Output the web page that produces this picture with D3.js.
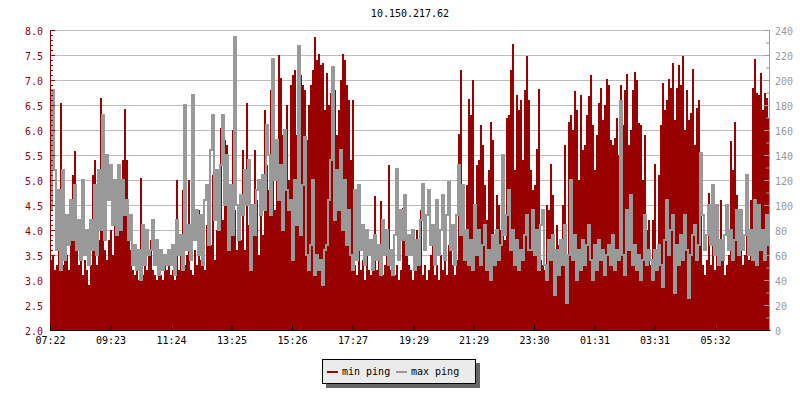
<!DOCTYPE html>
<meta charset="utf-8">
<style>
  body { margin: 0; background: #fff; }
  svg text { font-family: "DejaVu Sans Mono", monospace; font-size: 10px; }
</style>
<svg width="800" height="400"></svg>
<script src="https://d3js.org/d3.v7.min.js"></script>
<script>

var title = "10.150.217.62";
var startTime = "07:22";
var stepMinutes = 4;
var spanMinutes = 1440;

var timeLabels = ["07:22", "09:23", "11:24", "13:25", "15:26", "17:27",
  "19:29", "21:29", "23:30", "01:31", "03:31", "05:32"];
var leftTicks = [2.0, 2.5, 3.0, 3.5, 4.0, 4.5, 5.0, 5.5, 6.0, 6.5, 7.0, 7.5, 8.0];
var rightTicks = [0, 20, 40, 60, 80, 100, 120, 140, 160, 180, 200, 220, 240];
var legendNames = ["min ping", "max ping"];

// one value every 4 minutes (left axis units)
var minPing = [
  3.4,3.5,3.2,3.3,3.9,6.55,3.3,4.0,3.5,3.2, 4.2,5.1,5.58,3.7,3.3,3.5,3.1,3.4,3.2,2.9,
  3.3,5.1,5.4,3.3,3.8,6.65,4.0,3.6,3.4,3.8, 4.0,3.5,4.3,4.6,4.0,4.8,5.4,6.42,5.4,4.2,
  3.6,3.2,3.1,3.3,3.0,5.05,3.1,3.4,3.2,3.6, 3.8,3.2,3.1,3.0,3.2,3.1,3.0,3.3,3.2,3.4,
  3.1,3.2,3.0,5.0,3.2,3.8,4.8,3.3,3.5,5.0, 3.2,3.1,3.6,3.3,4.4,3.4,3.9,3.2,4.1,4.5,
  3.7,5.1,3.4,4.0,4.5,6.05,4.2,5.8,5.7,4.0, 3.9,6.0,4.4,3.6,4.4,3.8,5.6,3.6,6.55,4.1,
  3.4,3.9,5.6,4.6,3.5,4.9,3.9,6.4,5.3,4.8, 6.8,6.95,4.4,5.5,7.5,7.05,5.9,4.8,6.5,5.0,
  6.9,7.1,7.2,5.9,6.9,7.1,6.9,6.8,5.8,6.5, 6.9,7.2,7.87,7.4,7.52,7.3,7.35,6.4,7.15,6.5,
  6.75,7.2,6.8,5.9,6.4,7.0,7.52,7.4,6.9,6.6, 5.4,6.6,3.3,3.1,3.6,3.2,3.4,3.0,3.5,3.2,
  3.1,3.3,4.68,3.2,3.4,4.58,3.1,3.3,3.6,5.3, 3.2,3.4,3.1,3.3,3.0,3.2,4.45,4.4,3.8,3.3,
  3.2,3.0,3.4,4.0,3.3,4.4,3.1,3.3,3.0,3.2, 3.5,4.0,3.1,3.3,3.0,3.5,3.2,3.4,3.1,3.7,
  3.9,3.3,3.1,3.4,5.93,7.2,4.8,3.5,4.9,6.62, 6.3,7.0,4.0,5.3,5.4,6.1,5.7,4.9,4.2,5.2,
  6.16,5.8,3.9,4.7,4.5,4.0,4.2,3.8,6.25,6.3, 7.2,7.73,5.2,6.7,6.4,6.6,5.4,6.8,7.48,6.6,
  5.2,4.8,4.9,5.63,6.83,3.4,3.3,3.2,4.5,4.4, 5.33,4.7,3.5,4.1,3.7,3.3,4.5,5.7,3.2,6.17,
  6.3,6.0,6.78,6.4,5.0,6.7,5.6,5.7,6.3,6.69, 7.1,6.1,5.2,5.9,6.55,6.85,6.2,6.5,7.03,6.9,
  5.8,5.7,5.85,6.25,5.5,6.91,6.1,6.8,7.13,5.7, 6.0,6.8,7.17,7.0,6.15,6.1,5.0,5.9,4.0,4.2,
  3.3,4.2,5.33,3.4,5.1,6.1,6.95,6.4,6.6,7.03, 6.85,7.35,6.2,6.85,7.3,6.9,7.48,6.0,6.8,6.2,
  6.35,7.22,5.7,6.45,6.6,4.67,3.3,3.1,3.4,4.75, 3.3,4.1,3.2,3.5,3.3,4.6,3.4,3.1,3.3,3.5,
  5.78,5.2,6.16,4.7,3.6,4.35,3.3,3.5,5.1,3.4, 4.6,6.85,7.43,6.75,6.7,7.15,6.4,6.75,6.65,6.25
];

var maxPing = [
  4.4,6.8,5.2,3.6,4.8,3.2,5.2,3.4,4.3,3.7, 4.6,3.8,4.9,3.6,4.2,3.4,5.0,3.5,4.0,3.3,
  4.2,3.6,4.9,3.5,5.2,4.0,6.3,3.8,5.5,4.6, 5.3,4.1,5.0,3.9,5.3,4.0,5.0,4.3,4.6,3.8,
  4.3,3.3,3.7,3.2,3.6,3.0,4.1,3.3,4.0,3.5, 3.6,4.2,3.3,3.8,3.1,3.6,3.2,3.5,3.3,3.6,
  3.3,3.7,3.1,4.2,3.5,3.9,3.2,6.5,3.6,4.1, 3.4,6.7,3.8,4.4,3.5,4.3,3.3,4.6,4.9,3.7,
  5.6,6.3,4.2,5.2,4.0,5.3,6.3,4.5,5.5,3.6, 4.9,3.9,7.87,4.5,3.8,4.7,4.3,5.2,4.5,5.4,
  3.2,4.5,3.9,4.8,5.0,4.3,5.1,4.4,6.1,5.5, 4.3,7.42,5.0,5.8,4.6,5.3,4.0,6.0,4.8,4.4,
  4.6,3.4,5.0,4.1,7.68,3.9,4.9,5.87,3.5,3.2, 3.7,5.0,3.1,3.5,3.2,3.4,2.9,3.6,3.7,4.6,
  5.4,7.27,4.2,5.2,4.4,5.6,4.0,5.0,3.7,4.4, 3.5,3.2,4.8,3.4,4.9,3.6,4.1,3.3,4.0,3.5,
  3.8,3.2,3.9,3.4,3.7,3.1,4.2,3.5,4.0,3.3, 3.6,3.1,3.9,5.23,3.4,4.4,3.8,4.7,3.5,3.9,
  3.5,4.0,3.2,3.8,3.3,4.2,4.93,3.6,4.3,4.8, 3.7,4.1,3.3,4.6,3.5,4.0,4.7,3.4,4.3,4.97,
  3.6,4.1,3.3,4.3,5.3,3.9,4.9,3.4,4.0,3.3, 3.8,3.2,4.5,3.5,4.0,3.3,3.7,4.1,3.2,3.6,
  3.0,3.9,3.3,4.0,3.4,3.7,5.5,3.9,4.3,4.8, 3.6,4.0,3.3,3.8,3.2,3.6,3.4,3.9,4.3,3.6,
  3.6,4.4,3.5,4.0,3.2,4.1,4.4,3.3,3.0,3.8, 3.4,3.9,2.7,3.6,3.1,3.8,3.3,4.1,2.55,3.5,
  5.0,3.4,3.9,3.0,3.6,3.2,3.8,3.3,3.7,4.1, 3.4,3.0,3.7,3.2,3.8,3.4,3.6,3.1,3.5,3.7,
  3.3,3.9,3.2,3.6,3.4,6.58,3.5,3.1,4.4,3.6, 4.7,3.3,3.7,3.2,3.5,3.0,3.4,4.3,3.3,3.6,
  3.4,3.0,3.6,3.2,3.7,3.3,2.87,3.8,4.6,3.5, 4.0,4.3,2.75,3.7,3.3,3.9,3.4,4.3,3.6,2.65,
  3.5,3.9,4.1,3.4,3.7,5.55,4.3,3.6,3.9,4.5, 3.7,4.9,3.5,4.5,3.3,3.8,3.4,3.9,4.5,3.6,
  4.0,3.4,3.8,4.4,3.5,4.4,3.6,3.9,5.1,3.5, 4.0,3.4,4.6,3.3,4.5,3.6,4.0,3.4,4.3,3.7
];

var red = "#990000", grey = "#999999";

var svg = d3.select("svg");

var parseTime = d3.timeParse("%H:%M");
var t0 = parseTime(startTime);
var t1 = d3.timeMinute.offset(t0, spanMinutes);

var x = d3.scaleTime().domain([t0, t1]).range([50, 770]);
var y = d3.scaleLinear().domain([2, 8]).range([330, 30]);
var yRight = d3.scaleLinear().domain([0, 240]).range([330, 30]);

function toPoints(arr) {
  var pts = arr.map(function(v, i) {
    return {t: d3.timeMinute.offset(t0, i * stepMinutes), v: v};
  });
  pts.push({t: t1, v: arr[arr.length - 1]});
  return pts;
}
var minData = toPoints(minPing);
var maxData = toPoints(maxPing);

var tickTimes = timeLabels.map(function(s) {
  var t = parseTime(s);
  if (t < t0) t = d3.timeDay.offset(t, 1);
  return t;
});

// grid
svg.append("g")
  .selectAll("line")
  .data(leftTicks)
  .enter().append("line")
  .attr("x1", 50).attr("x2", 770)
  .attr("y1", d => y(d) + 0.5).attr("y2", d => y(d) + 0.5)
  .attr("stroke", "#bbbbbb");

// min ping area
var area = d3.area()
  .curve(d3.curveStepAfter)
  .x(d => x(d.t))
  .y0(330)
  .y1(d => y(d.v));

svg.append("path")
  .datum(minData)
  .attr("d", area)
  .attr("fill", red)
  .attr("shape-rendering", "crispEdges");

// max ping line, drawn over the area
var line = d3.line()
  .curve(d3.curveStepAfter)
  .x(d => x(d.t))
  .y(d => y(d.v));

svg.append("path")
  .datum(maxData)
  .attr("d", line)
  .attr("fill", "none")
  .attr("stroke", grey)
  .attr("stroke-width", 2)
  .attr("shape-rendering", "crispEdges");

// left axis
var leftAxis = svg.append("g")
  .attr("transform", "translate(50,0)")
  .call(d3.axisLeft(y).tickValues(y.ticks(60)).tickSize(-3).tickSizeOuter(0).tickFormat(""));
leftAxis.selectAll("line, path").attr("stroke", red);

var leftMajor = svg.append("g")
  .attr("transform", "translate(50,0)")
  .call(d3.axisLeft(y).tickValues(leftTicks).tickSize(-5).tickSizeOuter(0)
    .tickPadding(7).tickFormat(d3.format(".1f")));
leftMajor.selectAll("line, path").attr("stroke", red);
leftMajor.selectAll("text").attr("fill", red).attr("dy", "0.4em")
  .style("font-family", "DejaVu Sans Mono").style("font-size", "10px");

// right axis
var rightMinor = svg.append("g")
  .attr("transform", "translate(769,0)")
  .call(d3.axisRight(yRight).tickValues(yRight.ticks(24)).tickSize(-3).tickSizeOuter(0).tickFormat(""));
rightMinor.selectAll("line, path").attr("stroke", grey);

var rightMajor = svg.append("g")
  .attr("transform", "translate(769,0)")
  .call(d3.axisRight(yRight).tickValues(rightTicks).tickSize(-5).tickSizeOuter(0).tickPadding(6));
rightMajor.selectAll("line, path").attr("stroke", grey);
rightMajor.selectAll("text").attr("fill", grey).attr("dy", "0.4em")
  .style("font-family", "DejaVu Sans Mono").style("font-size", "10px");

// time axis
var bottom = svg.append("g")
  .attr("transform", "translate(0,330)")
  .call(d3.axisBottom(x).tickValues(tickTimes).tickSize(-5).tickSizeOuter(0)
    .tickPadding(7).tickFormat(d3.timeFormat("%H:%M")));
bottom.selectAll("line, path").attr("stroke", "#000");
bottom.selectAll("text").attr("fill", "#000")
  .style("font-family", "DejaVu Sans Mono").style("font-size", "10px");

// title
svg.append("text")
  .attr("x", 410).attr("y", 17)
  .attr("text-anchor", "middle")
  .attr("fill", "#000")
  .text(title);

// legend
var lg = svg.append("g");
lg.append("rect").attr("x", 326).attr("y", 363).attr("width", 154).attr("height", 25).attr("fill", "#666");
lg.append("rect").attr("x", 322.5).attr("y", 359.5).attr("width", 153).attr("height", 24)
  .attr("fill", "#ebebeb").attr("stroke", "#000");

var legendColors = [red, grey];
var legendX = [327, 396];
legendNames.forEach(function(name, i) {
  lg.append("rect").attr("x", legendX[i]).attr("y", 371).attr("width", 11).attr("height", 2)
    .attr("fill", legendColors[i]);
  lg.append("text").attr("x", legendX[i] + 15).attr("y", 375).attr("fill", "#000").text(name);
});

</script>
